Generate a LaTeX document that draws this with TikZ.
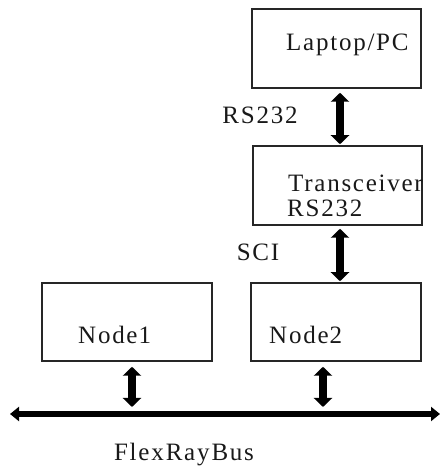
\documentclass[tikz,border=0pt]{standalone}
\usepackage{fontspec}
\setmainfont[LetterSpace=7]{Liberation Serif}
\usetikzlibrary{arrows.meta}
\begin{document}
\begin{tikzpicture}[x=1pt,y=1pt,
  box/.style={draw=black!85,line width=1.5pt,inner sep=0pt},
  lbl/.style={inner sep=0pt,font=\fontsize{25}{28}\selectfont,text=black!90},
  dbl/.style={line width=8pt,{Triangle[width=18pt,length=9pt]}-{Triangle[width=18pt,length=9pt]}},
  busarrow/.style={line width=5.5pt,{Triangle[width=14pt,length=9pt]}-{Triangle[width=14pt,length=9pt]}}]
\useasboundingbox (0,0) rectangle (440,467);
% boxes
\node[box,minimum width=169pt,minimum height=79pt] (laptop) at (336.5,418.5) {};
\node[box,minimum width=169pt,minimum height=79pt] (trans) at (337.5,281.5) {};
\node[box,minimum width=170pt,minimum height=78pt] (node1) at (127,145) {};
\node[box,minimum width=170pt,minimum height=78pt] (node2) at (336,145) {};
% texts
\node[lbl,anchor=west] (tlaptop) at (286,422) {Laptop/PC};
\begin{scope}
\clip (trans.south west) rectangle ([xshift=1pt]trans.north east);
\node[lbl,anchor=west] (ttrans) at (288,284) {Transceiver};
\end{scope}
\node[lbl,anchor=west] (trs) at (287,259) {RS232};
\node[lbl,anchor=west] (tn1) at (78,132) {Node\hspace{1pt}1};
\node[lbl,anchor=west] (tn2) at (269,132) {Node\hspace{1pt}2};
\node[lbl] (rslbl) at (260,352) {RS232};
\node[lbl] (scilbl) at (258,215) {SCI};
\node[lbl] (buslbl) at (184,12) {Flex\hspace{2pt}Ray\hspace{2pt}Bus};
% bus
\coordinate (busL) at (10,53);
\coordinate (busR) at (440,53);
\draw[busarrow] (busL) -- (busR);
% connectors
\draw[dbl] ([xshift=3.5pt,yshift=-4pt]laptop.south) -- ([xshift=2.5pt,yshift=1pt]trans.north);
\draw[dbl] ([xshift=2.5pt,yshift=-3pt]trans.south) -- ([xshift=4pt,yshift=1pt]node2.north);
\draw[dbl] ([xshift=5pt,yshift=-5pt]node1.south) -- ([xshift=5pt]node1.south |- 0,60);
\draw[dbl] ([xshift=-13pt,yshift=-5pt]node2.south) -- ([xshift=-13pt]node2.south |- 0,60);
\end{tikzpicture}
\end{document}
